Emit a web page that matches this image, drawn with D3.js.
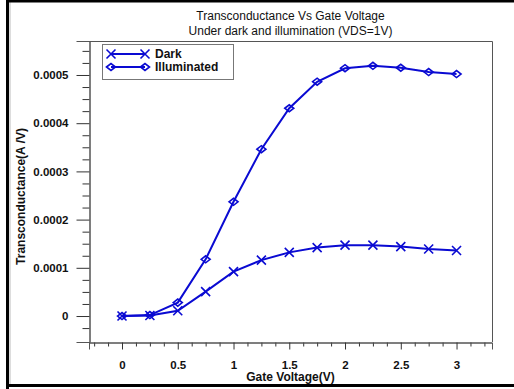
<!DOCTYPE html>
<html>
<head>
<meta charset="utf-8">
<script src="https://cdn.jsdelivr.net/npm/d3@7"></script>
<style>
  html, body { margin: 0; padding: 0; background: #fff; }
  svg { display: block; }
  text { font-family: "Liberation Sans", Arial, sans-serif; }
</style>
</head>
<body>
<svg id="chart" width="514" height="389"></svg>
<script>
// Gate voltage sweep (V)
const gateVoltage = [0, 0.25, 0.5, 0.75, 1.0, 1.25, 1.5, 1.75, 2.0, 2.25, 2.5, 2.75, 3.0];
// Transconductance (A/V) in the dark
const darkGm = [0, 0.000001, 0.000011, 0.0000505, 0.000092, 0.000116, 0.000132, 0.000142, 0.000147, 0.000147, 0.000144, 0.000139, 0.000136];
// Transconductance (A/V) under illumination
const illumGm = [0, 0.000002, 0.0000278, 0.0001176, 0.000237, 0.000346, 0.000431, 0.000486, 0.000514, 0.000519, 0.000515, 0.000506, 0.000502];

const xMajorTicks = [0, 0.5, 1, 1.5, 2, 2.5, 3];
const xTickLabels = ["0", "0.5", "1", "1.5", "2", "2.5", "3"];
const yMajorTicks = [0, 0.0001, 0.0002, 0.0003, 0.0004, 0.0005];
const yTickLabels = ["0", "0.0001", "0.0002", "0.0003", "0.0004", "0.0005"];
const seriesNames = ["Dark", "Illuminated"];

const titleLines = ["Transconductance Vs Gate Voltage", "Under dark and illumination (VDS=1V)"];
const xTitle = "Gate Voltage(V)";
const yTitle = "Transconductance(A /V)";

const blue = "#0a0ad2";
const axisGrey = "#555";

const svg = d3.select("#chart");
const plot = { left: 89, right: 492, top: 41, bottom: 342 };

const x = d3.scaleLinear().domain([-0.296, 3.318]).range([plot.left, plot.right]);
const y = d3.scaleLinear().domain([-0.0000539, 0.0005705]).range([plot.bottom, plot.top]);

// outer frame
svg.append("rect").attr("x", 0).attr("y", 0).attr("width", 514).attr("height", 389).attr("fill", "#fff");
svg.append("line").attr("x1", 7.5).attr("x2", 7.5).attr("y1", 0).attr("y2", 389).attr("stroke", "#000").attr("stroke-width", 3);
svg.append("line").attr("x1", 10).attr("x2", 10).attr("y1", 2).attr("y2", 384).attr("stroke", "#bbb").attr("stroke-width", 1);
svg.append("line").attr("x1", 6).attr("x2", 514).attr("y1", 1).attr("y2", 1).attr("stroke", "#000").attr("stroke-width", 3);
svg.append("line").attr("x1", 6).attr("x2", 514).attr("y1", 385.5).attr("y2", 385.5).attr("stroke", "#000").attr("stroke-width", 3);

// plot box (top and right edges)
svg.append("path")
  .attr("d", `M${plot.left},${plot.top + 0.5}H${plot.right + 0.5}V${plot.bottom}`)
  .attr("fill", "none").attr("stroke", axisGrey).attr("stroke-width", 1);

// x axis: major ticks every 0.5, minor every 0.125
const xMinor = d3.range(-0.25, 3.26, 0.125).filter(v => Math.abs(v * 2 - Math.round(v * 2)) > 1e-6);
const xAxisMinor = d3.axisBottom(x).tickValues(xMinor).tickSize(4).tickFormat("");
const xAxisMajor = d3.axisBottom(x).tickValues(xMajorTicks).tickSize(7)
  .tickFormat((d, i) => xTickLabels[i]).tickPadding(11);

const gxMinor = svg.append("g").attr("transform", `translate(0,${plot.bottom + 0.5})`).call(xAxisMinor);
const gx = svg.append("g").attr("transform", `translate(0,${plot.bottom + 0.5})`).call(xAxisMajor);
[gxMinor, gx].forEach(g => {
  g.select(".domain").attr("stroke", axisGrey);
  g.selectAll(".tick line").attr("stroke", "#333");
});
gx.selectAll(".tick text").attr("font-size", 11.5).attr("font-weight", "bold").attr("fill", "#111")
  .attr("font-family", "'Liberation Sans', Arial, sans-serif");

// y axis: major ticks every 0.0001, minor every 0.000025
const yMinor = d3.range(-0.000025, 0.00056, 0.000025).filter(v => Math.abs(v / 0.0001 - Math.round(v / 0.0001)) > 1e-6);
const yAxisMinor = d3.axisLeft(y).tickValues(yMinor).tickSize(7).tickFormat("");
const yAxisMajor = d3.axisLeft(y).tickValues(yMajorTicks).tickSize(13)
  .tickFormat((d, i) => yTickLabels[i]).tickPadding(8);

const gyMinor = svg.append("g").attr("transform", `translate(${plot.left + 0.5},0)`).call(yAxisMinor);
const gy = svg.append("g").attr("transform", `translate(${plot.left + 0.5},0)`).call(yAxisMajor);
[gyMinor, gy].forEach(g => {
  g.select(".domain").attr("stroke", axisGrey);
  g.selectAll(".tick line").attr("stroke", "#333");
});
gy.selectAll(".tick text").attr("font-size", 11.5).attr("font-weight", "bold").attr("fill", "#111")
  .attr("font-family", "'Liberation Sans', Arial, sans-serif");

// titles
svg.selectAll("text.title").data(titleLines).join("text")
  .attr("class", "title")
  .attr("x", (plot.left + plot.right) / 2)
  .attr("y", (d, i) => 20 + i * 15)
  .attr("text-anchor", "middle").attr("font-size", 12).attr("fill", "#111")
  .text(d => d);

svg.append("text")
  .attr("x", (plot.left + plot.right) / 2).attr("y", 381)
  .attr("text-anchor", "middle").attr("font-size", 12).attr("font-weight", "bold").attr("fill", "#111")
  .text(xTitle);

svg.append("text")
  .attr("transform", `translate(25,${(plot.top + plot.bottom) / 2 + 5}) rotate(-90)`)
  .attr("text-anchor", "middle").attr("font-size", 12).attr("font-weight", "bold").attr("fill", "#111")
  .text(yTitle);

// marker shapes
function drawCross(g, cx, cy) {
  const s = 4.5;
  g.append("path")
    .attr("d", `M${cx - s},${cy - s}L${cx + s},${cy + s}M${cx - s},${cy + s}L${cx + s},${cy - s}`)
    .attr("stroke", blue).attr("stroke-width", 1.6).attr("fill", "none");
}
function drawDiamond(g, cx, cy) {
  const w = 4.5, h = 3.5;
  g.append("path")
    .attr("d", `M${cx - w},${cy}L${cx},${cy - h}L${cx + w},${cy}L${cx},${cy + h}Z`)
    .attr("stroke", blue).attr("stroke-width", 1.6).attr("fill", "none");
}

const line = d3.line().x(d => x(d[0])).y(d => y(d[1]));
const series = [
  { values: darkGm, marker: drawCross },
  { values: illumGm, marker: drawDiamond }
];

series.forEach(s => {
  const pts = gateVoltage.map((v, i) => [v, s.values[i]]);
  const g = svg.append("g");
  g.append("path").datum(pts).attr("d", line)
    .attr("fill", "none").attr("stroke", blue).attr("stroke-width", 2);
  pts.forEach(p => s.marker(g, x(p[0]), y(p[1])));
});

// legend
const legend = svg.append("g");
legend.append("rect").attr("x", 102.5).attr("y", 44.5).attr("width", 131).attr("height", 35)
  .attr("fill", "#fff").attr("stroke", "#777").attr("stroke-width", 1);
seriesNames.forEach((name, i) => {
  const ly = 54 + i * 13;
  legend.append("line").attr("x1", 111).attr("x2", 145).attr("y1", ly).attr("y2", ly)
    .attr("stroke", blue).attr("stroke-width", 2);
  series[i].marker(legend, 111, ly);
  series[i].marker(legend, 145, ly);
  legend.append("text").attr("x", 155).attr("y", ly + 4)
    .attr("font-size", 12).attr("font-weight", "bold").attr("fill", "#111").text(name);
});
</script>
</body>
</html>
